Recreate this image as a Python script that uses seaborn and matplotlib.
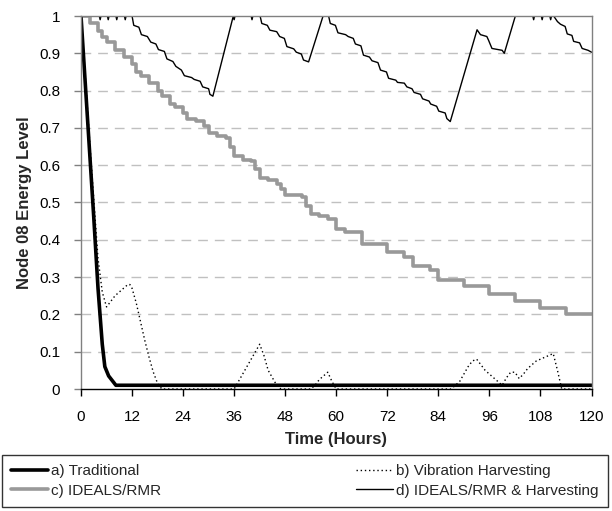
import numpy as np
import pandas as pd
import matplotlib
matplotlib.use("Agg")
import matplotlib.pyplot as plt
import seaborn as sns

# a) traditional
t_trad = [0, 1, 2, 3, 4, 5, 5.6, 6.5, 8.2, 120]
v_trad = [1.0, 0.82, 0.64, 0.46, 0.27, 0.12, 0.06, 0.035, 0.01, 0.01]

# b) vibration harvesting
t_vib = [0, 1, 2, 3, 4, 5, 6, 7, 8, 9, 10, 11, 11.5, 12, 13, 14, 15, 16, 17, 18, 19,
         36, 37, 38, 39, 40, 41, 42, 43, 44, 45, 46, 47,
         54, 55, 56, 57, 58, 59, 60,
         87, 88, 89, 90, 91, 92, 93, 94, 95, 96, 97, 98, 99, 100, 101, 102, 103,
         104, 105, 106, 107, 108, 109, 110, 111, 112, 113, 120]
v_vib = [1.0, 0.84, 0.67, 0.51, 0.35, 0.26, 0.22, 0.235, 0.25, 0.26, 0.27, 0.28, 0.28, 0.27,
         0.23, 0.18, 0.13, 0.085, 0.045, 0.015, 0.0,
         0.0, 0.02, 0.04, 0.06, 0.08, 0.10, 0.12, 0.09, 0.05, 0.03, 0.01, 0.0,
         0.0, 0.01, 0.025, 0.035, 0.045, 0.02, 0.0,
         0.0, 0.01, 0.02, 0.04, 0.06, 0.075, 0.08, 0.065, 0.05, 0.04, 0.03, 0.02, 0.01,
         0.03, 0.045, 0.045, 0.028, 0.04, 0.055, 0.065, 0.075, 0.08, 0.085, 0.09, 0.095,
         0.05, 0.0, 0.0]

# c) IDEALS/RMR (step changes)
t_rmr = [0, 2, 4, 5, 6, 8, 10, 12, 13, 14, 16, 18, 19, 21, 22, 24, 25, 27, 29, 30, 32, 34,
         35, 36, 38, 40, 41, 42, 44, 46, 47, 48, 52, 53, 54, 56, 58, 60, 62, 66, 72, 76,
         78, 82, 84, 90, 96, 102, 108, 114, 120]
v_rmr = [1.0, 0.98, 0.96, 0.945, 0.93, 0.91, 0.89, 0.87, 0.85, 0.84, 0.82, 0.80, 0.785,
         0.765, 0.755, 0.74, 0.725, 0.718, 0.705, 0.685, 0.678, 0.672, 0.65, 0.625, 0.615,
         0.61, 0.59, 0.567, 0.56, 0.55, 0.535, 0.52, 0.515, 0.49, 0.47, 0.465, 0.455, 0.43,
         0.42, 0.39, 0.367, 0.355, 0.33, 0.32, 0.293, 0.275, 0.255, 0.237, 0.218, 0.2, 0.2]

# d) IDEALS/RMR & harvesting
t_both = [0, 4.3, 4.5, 4.7, 6.2, 6.4, 6.6, 8.2, 8.4, 8.6, 10.2, 10.4, 10.6, 12.0,
          12.4, 13.6, 14.2, 15.6, 16.4, 17.6, 18.2, 19.6, 20.2, 21.6, 22.3, 23.6, 24.3,
          26.0, 26.6, 28.0, 28.6, 30.0, 30.3, 31.0,
          35.8, 36.0, 36.2, 40.0, 40.2, 40.4, 42.1,
          42.5, 43.8, 44.4, 46.0, 46.7, 47.8, 48.4, 50.0, 50.6, 51.8, 52.3, 53.5,
          56.9, 58.2,
          58.6, 59.8, 60.4, 62.2, 62.8, 64.0, 64.5, 65.8, 66.4, 67.8, 68.4, 69.8, 70.4,
          71.8, 72.3, 74.0, 74.4, 76.0, 76.6, 77.8, 78.3, 79.8, 80.3, 81.8, 82.2, 83.6,
          84.1, 85.6, 86.0, 86.8,
          93.1, 93.9, 95.4, 95.8, 96.6, 99.0, 99.5, 102.1,
          106.2, 106.4, 106.6, 108.2, 108.4, 108.6, 110.2, 110.4, 110.6, 111.1,
          112.0, 112.7, 113.8, 114.3, 115.4, 115.8, 117.2, 117.8, 119.2, 120]
v_both = [1.0, 1.0, 0.99, 1.0, 1.0, 0.99, 1.0, 1.0, 0.99, 1.0, 1.0, 0.99, 1.0, 1.0,
          0.975, 0.97, 0.95, 0.945, 0.93, 0.925, 0.91, 0.905, 0.885, 0.878, 0.865, 0.855,
          0.84, 0.835, 0.83, 0.825, 0.81, 0.805, 0.79, 0.785,
          1.0, 0.99, 1.0, 1.0, 0.99, 1.0, 1.0,
          0.98, 0.975, 0.962, 0.958, 0.945, 0.94, 0.918, 0.912, 0.903, 0.898, 0.882, 0.877,
          1.0, 1.0,
          0.98, 0.975, 0.955, 0.95, 0.945, 0.94, 0.925, 0.92, 0.895, 0.89, 0.88, 0.875, 0.855,
          0.85, 0.833, 0.828, 0.822, 0.82, 0.81, 0.805, 0.795, 0.79, 0.778, 0.772, 0.764,
          0.758, 0.745, 0.74, 0.725, 0.717,
          0.963, 0.95, 0.945, 0.935, 0.913, 0.908, 0.9, 1.0,
          1.0, 0.99, 1.0, 1.0, 0.99, 1.0, 1.0, 0.99, 1.0, 1.0,
          0.985, 0.978, 0.972, 0.952, 0.948, 0.932, 0.928, 0.913, 0.908, 0.903]

labels = ["a) Traditional", "b) Vibration Harvesting",
          "c) IDEALS/RMR", "d) IDEALS/RMR & Harvesting"]
x_ticks = list(range(0, 121, 12))
y_ticks = [0, 0.1, 0.2, 0.3, 0.4, 0.5, 0.6, 0.7, 0.8, 0.9, 1]
y_ticklabels = ["0", "0.1", "0.2", "0.3", "0.4", "0.5", "0.6", "0.7", "0.8", "0.9", "1"]

sns.set_style("white")
plt.rcParams["font.family"] = ["Liberation Sans", "DejaVu Sans"]

fig = plt.figure(figsize=(6.12, 5.11), dpi=100)
ax = fig.add_axes([81 / 612, 1 - 389 / 511, 510.5 / 612, 373 / 511])

sns.lineplot(x=t_both, y=v_both, ax=ax, color="black", lw=1.0, label=labels[3])
sns.lineplot(x=t_rmr, y=v_rmr, ax=ax, color="#999999", lw=2.6, drawstyle="steps-post",
             label=labels[2])
sns.lineplot(x=t_vib, y=v_vib, ax=ax, color="black", lw=1.0, linestyle=(0, (1, 2)),
             label=labels[1])
sns.lineplot(x=t_trad, y=v_trad, ax=ax, color="black", lw=2.6, label=labels[0])

ax.set_xlim(0, 120)
ax.set_ylim(0, 1)
ax.set_xticks(x_ticks)
ax.set_yticks(y_ticks)
ax.set_yticklabels(y_ticklabels)
for yv in y_ticks[1:-1]:
    ax.axhline(yv, color="#c0c0c0", lw=1, dashes=(7, 5), zorder=0)

for side in ["top", "right", "left"]:
    ax.spines[side].set_color("#808080")
ax.spines["bottom"].set_color("black")
for s in ax.spines.values():
    s.set_linewidth(1)
ax.tick_params(axis="both", direction="out", length=5, width=1, labelsize=11,
               colors="black", bottom=True, left=True)
ax.tick_params(axis="x", pad=10)
ax.tick_params(axis="y", pad=10, color="#808080")

ax.set_xlabel("Time (Hours)", fontsize=12, fontweight="bold", labelpad=6)
ax.set_ylabel("Node 08 Energy Level", fontsize=12, fontweight="bold", labelpad=5)

ax.get_legend().remove()
handles, labs = ax.get_legend_handles_labels()
by_label = dict(zip(labs, handles))
# column layout: col1 a, c ; col2 b, d
leg_labels = [labels[0], labels[2], labels[1], labels[3]]
leg_handles = [by_label[l] for l in leg_labels]
leg = fig.legend(leg_handles, leg_labels, ncol=2, loc="upper left",
                 bbox_to_anchor=(0.003, 1 - 455 / 511), fontsize=11,
                 handlelength=2.4, handletextpad=0.2, columnspacing=12.8,
                 borderpad=0.6, labelspacing=0.35, fancybox=False, frameon=True,
                 borderaxespad=0)
leg.get_frame().set_edgecolor("black")
leg.get_frame().set_linewidth(1)

fig.savefig("out.png", dpi=100)
